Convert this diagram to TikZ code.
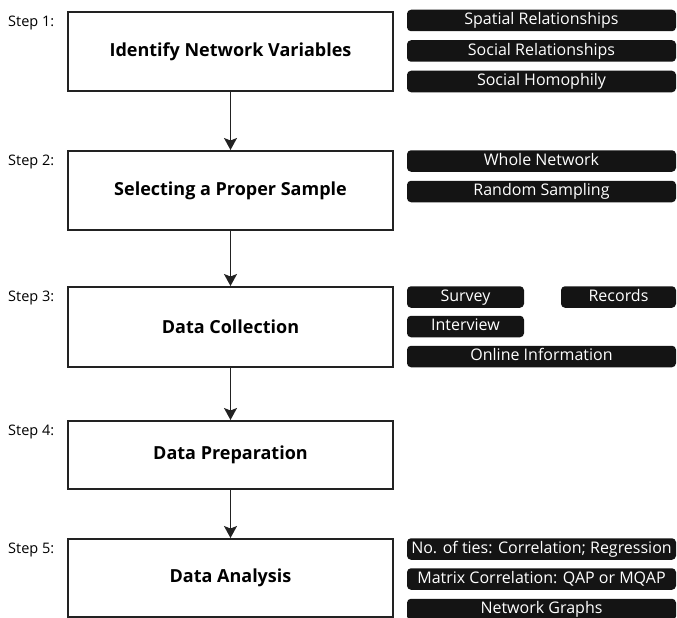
\documentclass[tikz,border=0pt]{standalone}
\usepackage{fontspec}
\setmainfont{Open Sans}
\usepackage{tikz}
\usetikzlibrary{arrows.meta}

\definecolor{pillgray}{HTML}{141414}
\definecolor{boxline}{HTML}{222222}

\begin{document}
\begin{tikzpicture}[x=1pt,y=-1pt,
  stepbox/.style={draw=boxline,line width=2pt,minimum width=325pt,inner sep=0pt,
    font=\fontsize{18}{21}\selectfont\bfseries},
  tag/.style={fill=pillgray,rounded corners=4pt,text=white,inner sep=0pt,
    minimum height=21.5pt,text height=12pt,text depth=3.5pt,
    font=\fontsize{16}{19}\selectfont},
  steplabel/.style={anchor=north west,inner sep=0pt,font=\fontsize{14.5}{17}\selectfont},
  flow/.style={draw=boxline,line width=1.5pt,-{Stealth[length=12pt,width=13pt,inset=2.5pt]}}]
  \useasboundingbox (0,0) rectangle (677,618);

  \node[stepbox,minimum height=79pt] (ident) at (230.5,51.5) {Identify Network Variables};
  \node[stepbox,minimum height=79pt] (sample) at (230.5,190.5) {Selecting a Proper Sample};
  \node[stepbox,minimum height=80pt] (collect) at (230.5,327) {Data Collection};
  \node[stepbox,minimum height=68pt] (prep) at (230.5,455) {Data Preparation};
  \node[stepbox,minimum height=78pt] (analysis) at (230.5,578) {Data Analysis};

  \node[steplabel] (s1) at (8,16) {Step 1:};
  \node[steplabel] (s2) at (8,155) {Step 2:};
  \node[steplabel] (s3) at (8,291) {Step 3:};
  \node[steplabel] (s4) at (8,425) {Step 4:};
  \node[steplabel] (s5) at (8,543) {Step 5:};

  \draw[flow] (ident) -- (sample);
  \draw[flow] (sample) -- (collect);
  \draw[flow] (collect) -- (prep);
  \draw[flow] (prep) -- (analysis);

  % step 1
  \node[tag,minimum width=269pt] (spatial) at (541.5,20.5) {Spatial Relationships};
  \node[tag,minimum width=269pt] (social) at (541.5,51) {Social Relationships};
  \node[tag,minimum width=269pt] (homoph) at (541.5,81.5) {Social Homophily};
  % step 2
  \node[tag,minimum width=269pt] (whole) at (541.5,161) {Whole Network};
  \node[tag,minimum width=269pt] (random) at (541.5,191.5) {Random Sampling};
  % step 3
  \node[tag,minimum width=117pt] (survey) at (465.5,297) {Survey};
  \node[tag,minimum width=115pt] (records) at (618.5,297) {Records};
  \node[tag,minimum width=117pt] (interview) at (465.5,326.5) {Interview};
  \node[tag,minimum width=269pt] (online) at (541.5,356.5) {Online Information};
  % step 5
  \node[tag,minimum width=269pt] (ties) at (541.5,549) {No. of ties: Correlation; Regression};
  \node[tag,minimum width=269pt] (matrix) at (541.5,579) {Matrix Correlation: QAP or MQAP};
  \node[tag,minimum width=269pt] (graphs) at (541.5,609.5) {Network Graphs};
\end{tikzpicture}
\end{document}
